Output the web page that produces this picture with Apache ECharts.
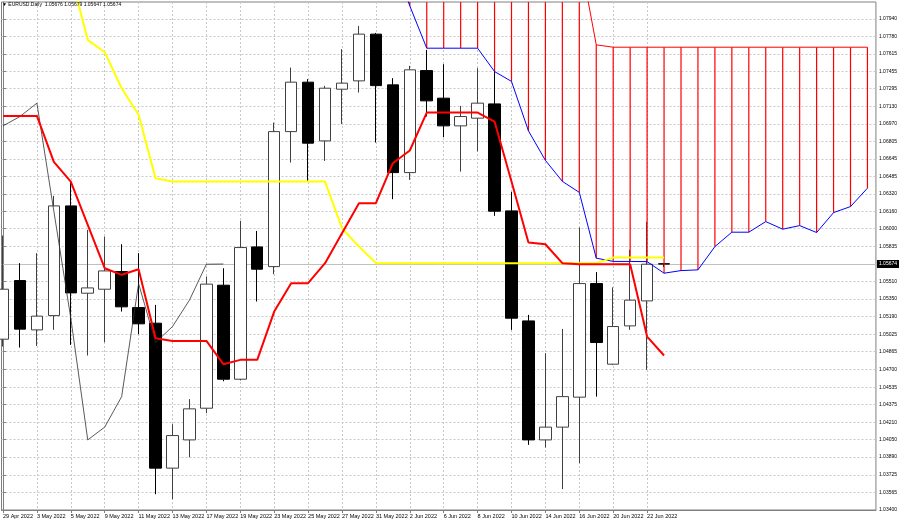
<!DOCTYPE html>
<html><head><meta charset="utf-8">
<script src="https://cdn.jsdelivr.net/npm/echarts@6/dist/echarts.min.js"></script>
<style>html,body{margin:0;padding:0;background:#fff}#c{width:900px;height:523px}</style>
</head><body><div id="c"></div>
<script>
const symbolName = "EURUSD.Daily";
const dates = ["29 Apr 2022","2 May 2022","3 May 2022","4 May 2022","5 May 2022","6 May 2022","9 May 2022","10 May 2022","11 May 2022","12 May 2022","13 May 2022","16 May 2022","17 May 2022","18 May 2022","19 May 2022","20 May 2022","23 May 2022","24 May 2022","25 May 2022","26 May 2022","27 May 2022","30 May 2022","31 May 2022","1 Jun 2022","2 Jun 2022","3 Jun 2022","6 Jun 2022","7 Jun 2022","8 Jun 2022","9 Jun 2022","10 Jun 2022","13 Jun 2022","14 Jun 2022","15 Jun 2022","16 Jun 2022","17 Jun 2022","20 Jun 2022","21 Jun 2022","22 Jun 2022","23 Jun 2022"];
const futureBars = 12;
const opens  = [1.04979,1.05521,1.05065,1.05197,1.06211,1.05404,1.05441,1.05604,1.05271,1.05127,1.03787,1.04048,1.04341,1.05478,1.04609,1.05832,1.05650,1.06898,1.07355,1.06812,1.07290,1.07367,1.07799,1.07330,1.06519,1.07462,1.07207,1.06951,1.07022,1.07154,1.06165,1.05148,1.04048,1.04166,1.04443,1.05493,1.04748,1.05102,1.05333,1.05676];
const highs  = [1.05937,1.05682,1.05774,1.06304,1.06436,1.05990,1.05928,1.05857,1.05774,1.05296,1.04193,1.04425,1.05558,1.05635,1.06073,1.05980,1.06981,1.07490,1.07383,1.07321,1.07660,1.07875,1.07810,1.07392,1.07506,1.07653,1.07521,1.07136,1.07484,1.07740,1.06341,1.05204,1.04850,1.05074,1.06011,1.05599,1.05458,1.05805,1.06064,1.05679];
const lows   = [1.04911,1.04902,1.04917,1.05065,1.04926,1.04828,1.04951,1.05234,1.05025,1.03546,1.03500,1.03888,1.04295,1.04590,1.04597,1.05327,1.05580,1.06612,1.06436,1.06627,1.06969,1.07259,1.06797,1.06273,1.06452,1.07037,1.06846,1.06528,1.06715,1.06119,1.05065,1.04002,1.03977,1.03593,1.03833,1.04448,1.04740,1.05065,1.04695,1.05647];
const closes = [1.05441,1.05072,1.05192,1.06211,1.05407,1.05453,1.05610,1.05278,1.05121,1.03787,1.04088,1.04335,1.05488,1.04609,1.05826,1.05626,1.06898,1.07355,1.06791,1.07299,1.07346,1.07799,1.07323,1.06519,1.07469,1.07182,1.06951,1.07037,1.07161,1.06162,1.05173,1.04048,1.04166,1.04448,1.05493,1.04948,1.05096,1.05340,1.05672,1.05674];
const tenkan = [1.07043,1.07043,1.07043,1.06618,1.06436,1.06036,1.05635,1.05574,1.05626,1.04988,1.04963,1.04963,1.04963,1.04748,1.04788,1.04788,1.05234,1.05497,1.05497,1.05682,1.05959,1.06236,1.06236,1.06606,1.06723,1.07074,1.07074,1.07074,1.07074,1.06991,1.06436,1.05872,1.05857,1.05682,1.05672,1.05672,1.05672,1.05672,1.05003,1.04828];
const kijun  = [1.08770,1.08770,1.08590,1.08450,1.08347,1.07746,1.07632,1.07299,1.07053,1.06467,1.06436,1.06436,1.06436,1.06436,1.06436,1.06436,1.06436,1.06436,1.06436,1.06436,1.06005,1.05835,1.05682,1.05682,1.05682,1.05682,1.05682,1.05682,1.05682,1.05682,1.05682,1.05682,1.05682,1.05682,1.05682,1.05682,1.05733,1.05733,1.05733,1.05733];
const spanStart = 23;
const spanA  = [1.08485,1.08060,1.07669,1.07669,1.07669,1.07669,1.07453,1.07362,1.06905,1.06632,1.06438,1.06336,1.05728,1.05698,1.05698,1.05696,1.05589,1.05613,1.05620,1.05835,1.05968,1.05968,1.06066,1.05996,1.06029,1.05965,1.06149,1.06205,1.06375];
const spanB  = [1.08900,1.08900,1.08850,1.08850,1.08850,1.08800,1.08700,1.08700,1.08650,1.08650,1.08600,1.08541,1.07700,1.07678,1.07678,1.07678,1.07678,1.07678,1.07678,1.07678,1.07678,1.07678,1.07678,1.07678,1.07678,1.07678,1.07678,1.07678,1.07678];
const chikou = [1.06951,1.07037,1.07161,1.06162,1.05173,1.04048,1.04166,1.04448,1.05493,1.04948,1.05096,1.05340,1.05672,1.05674];
const yTicks = [1.07940,1.07780,1.07615,1.07455,1.07295,1.07130,1.06970,1.06805,1.06645,1.06485,1.06320,1.06160,1.06000,1.05835,1.05510,1.05350,1.05190,1.05025,1.04865,1.04700,1.04535,1.04375,1.04210,1.04050,1.03890,1.03725,1.03565,1.03400];
const xTickStep = 2;
const yMin = 1.03400, yMax = 1.08096;
const xMin = -0.088, xMax = 51.5;

const n = dates.length;
const last = n - 1;
const xTicks = dates.map((d, i) => i).filter(i => i % xTickStep === 0);
const candleData = opens.map((o, i) => [i, o, closes[i], lows[i], highs[i]]);
const pairs = (arr, start) => arr.map((v, i) => [start + i, v]);
const cloudData = spanA.map((a, i) => [spanStart + i, a, spanB[i]]);
const f5 = v => v.toFixed(5);
const font = 'Liberation Sans';

const chart = echarts.init(document.getElementById('c'), null, {renderer: 'canvas'});
chart.setOption({
  animation: false,
  backgroundColor: '#ffffff',
  title: {
    text: '\u25BC ' + symbolName + '  ' + [opens[last], highs[last], lows[last], closes[last]].map(f5).join(' '),
    left: 2, top: 2, padding: 0,
    textStyle: {fontSize: 5, fontWeight: 'normal', color: '#000', fontFamily: font}
  },
  grid: {left: 0, right: 23, top: 2, bottom: 13, show: true, borderColor: '#808080', borderWidth: 1, backgroundColor: '#fff'},
  xAxis: {
    type: 'value', min: xMin, max: xMax,
    axisLine: {show: true, onZero: false, lineStyle: {color: '#808080'}},
    axisTick: {show: true, customValues: xTicks, length: 3, lineStyle: {color: '#808080'}},
    axisLabel: {customValues: xTicks, formatter: v => dates[Math.round(v)] || '', align: 'left', margin: 3, fontSize: 5.5, color: '#000', fontFamily: font, showMinLabel: true, showMaxLabel: true},
    splitLine: {show: true, lineStyle: {color: '#c8c8c8', type: [2, 2], width: 1}}
  },
  yAxis: {
    type: 'value', position: 'right', min: yMin, max: yMax, scale: true,
    axisLine: {show: true, lineStyle: {color: '#808080'}},
    axisTick: {show: true, customValues: yTicks, length: 3, lineStyle: {color: '#808080'}},
    axisLabel: {customValues: yTicks, formatter: v => f5(v), margin: 3, fontSize: 5, color: '#000', fontFamily: font, showMinLabel: true, showMaxLabel: true},
    splitLine: {show: true, lineStyle: {color: '#c8c8c8', type: [2, 2], width: 1}}
  },
  series: [
    {
      type: 'candlestick', data: candleData, encode: {x: 0, y: [1, 2, 3, 4]}, barWidth: 12, z: 2,
      itemStyle: {color: '#ffffff', color0: '#000000', borderColor: '#404040', borderColor0: '#000000', borderWidth: 1}
    },
    {
      type: 'custom', z: 3, clip: true,
      data: cloudData, encode: {x: 0, y: [1, 2]},
      renderItem: (params, api) => {
        const p1 = api.coord([api.value(0), api.value(1)]);
        const p2 = api.coord([api.value(0), api.value(2)]);
        return {type: 'line', shape: {x1: p1[0], y1: p1[1], x2: p2[0], y2: p2[1]}, style: {stroke: '#ff0000', lineWidth: 1.2}};
      }
    },
    {type: 'line', data: pairs(spanB, spanStart), z: 4, symbol: 'none', lineStyle: {color: '#ff0000', width: 1}},
    {type: 'line', data: pairs(spanA, spanStart), z: 4, symbol: 'none', lineStyle: {color: '#0000ff', width: 1}},
    {type: 'line', data: pairs(chikou, 0), z: 4, symbol: 'none', lineStyle: {color: '#303030', width: 0.8}},
    {type: 'line', data: pairs(kijun, 0), z: 5, symbol: 'none', lineStyle: {color: '#ffff00', width: 2}},
    {
      type: 'line', data: pairs(tenkan, 0), z: 6, symbol: 'none', lineStyle: {color: '#ff0000', width: 2},
      markLine: {
        silent: true, symbol: ['none', 'none'], animation: false, precision: 5, z: 1,
        lineStyle: {color: '#c0c0c0', type: 'solid', width: 1},
        label: {show: true, position: 'end', distance: 1, formatter: () => f5(closes[last]),
          backgroundColor: '#000', color: '#fff', fontSize: 5, fontFamily: font, padding: [2, 2, 1, 2]},
        data: [{yAxis: closes[last]}]
      }
    }
  ]
});
</script></body></html>
